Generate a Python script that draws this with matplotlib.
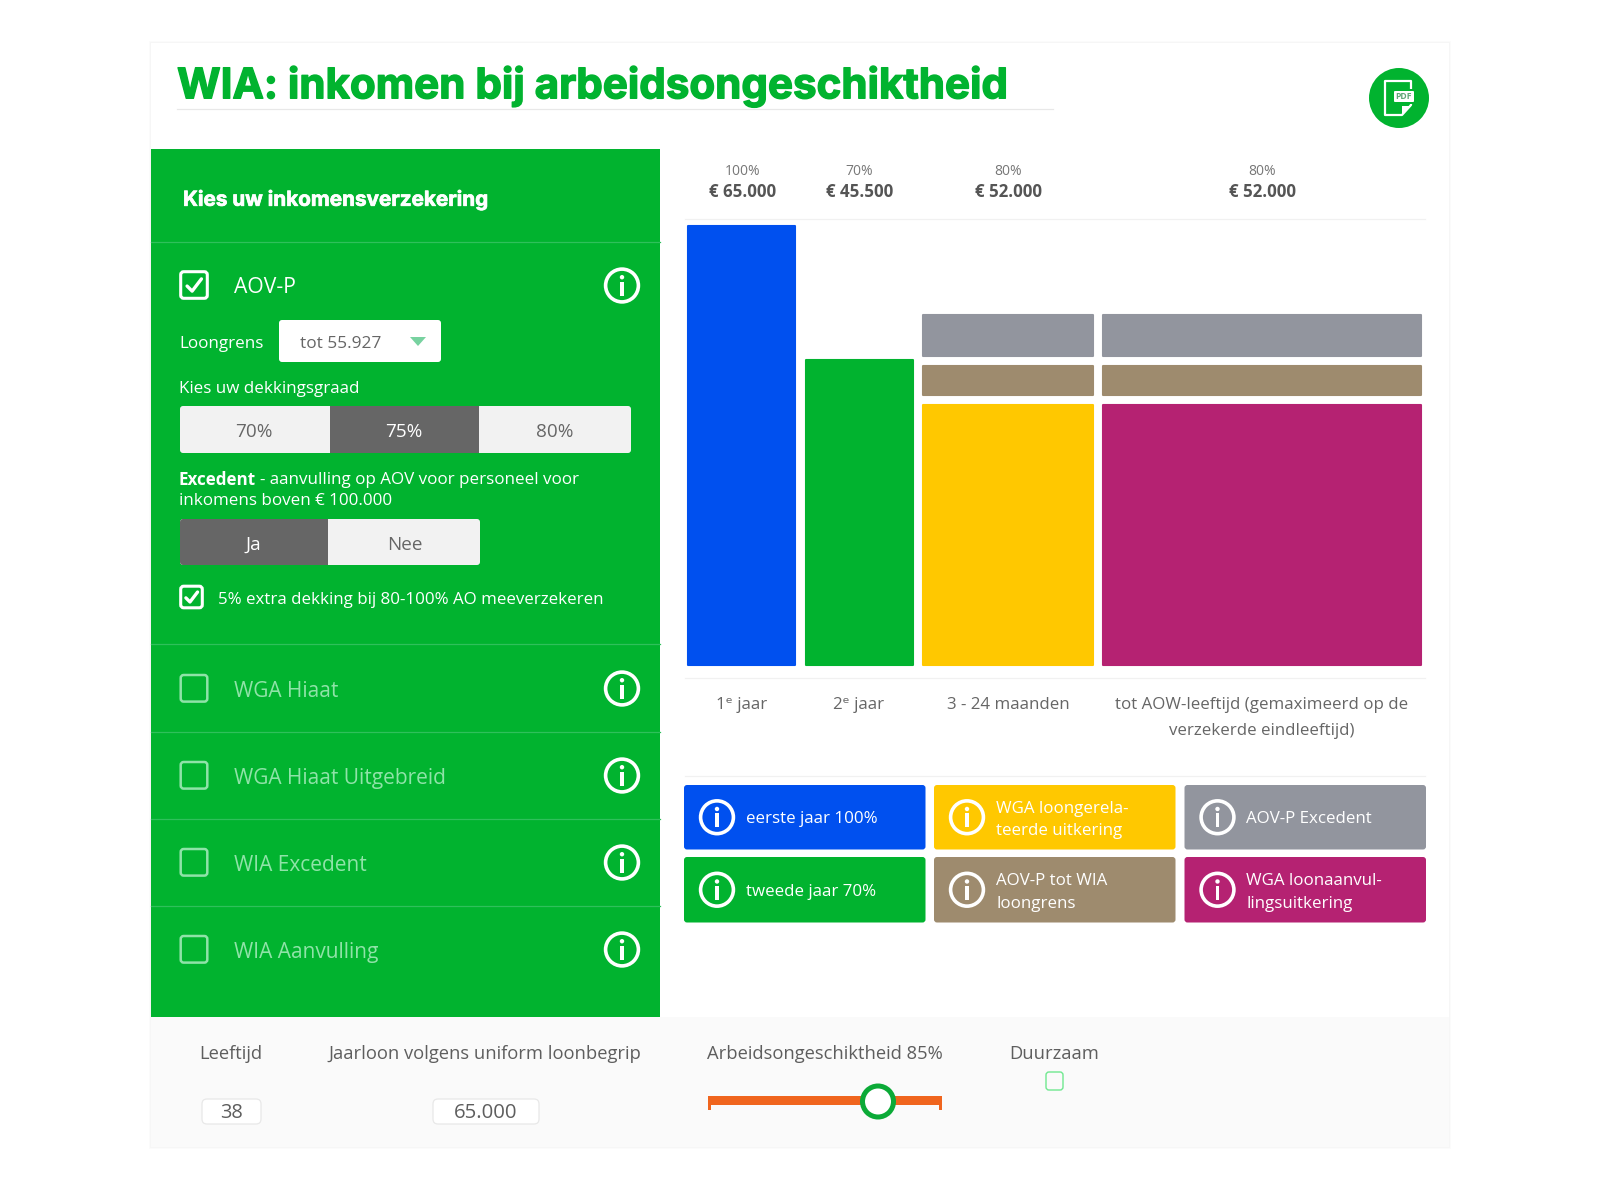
import matplotlib
matplotlib.use("Agg")
import matplotlib.pyplot as plt
import matplotlib.patheffects as pe
from matplotlib.patches import FancyBboxPatch, Circle, Rectangle, Polygon
from matplotlib.lines import Line2D

plt.rcParams['font.family'] = ['Open Sans', 'DejaVu Sans']

# ---------- data ----------
periods = ["1ᵉ jaar", "2ᵉ jaar", "3 - 24 maanden", "tot AOW-leeftijd (gemaximeerd op de\nverzekerde eindleeftijd)"]
percentages = ["100%", "70%", "80%", "80%"]
totals = ["€ 65.000", "€ 45.500", "€ 52.000", "€ 52.000"]
first_year = [65000, 0, 0, 0]
second_year = [0, 45100, 0, 0]
wga_loongerelateerd = [0, 0, 40000, 0]
wga_loonaanvulling = [0, 0, 0, 40000]
aov_tot_loongrens = [0, 0, 5720, 5720]
aov_excedent = [0, 0, 6000, 6000]

legend_labels = ["eerste jaar 100%", "tweede jaar 70%", "WGA loongerela-\nteerde uitkering",
                 "AOV-P tot WIA\nloongrens", "AOV-P Excedent", "WGA loonaanvul-\nlingsuitkering"]
coverage_options = ["70%", "75%", "80%"]
excedent_options = ["Ja", "Nee"]
other_products = ["WGA Hiaat", "WGA Hiaat Uitgebreid", "WIA Excedent", "WIA Aanvulling"]

# ---------- styles ----------
BLUE, GREEN, YELLOW = "#0050EF", "#01B32F", "#FFC800"
TAN, GRAY, MAGENTA = "#9E8B6E", "#92959E", "#B52272"
DARK, LIGHT, TXT = "#666666", "#F2F2F2", "#666666"
BODY = 12.25
DY = 1.8

fig = plt.figure(figsize=(16, 12), dpi=100, facecolor="white")
ui = fig.add_axes([0, 0, 1, 1])
ui.set_xlim(0, 1600); ui.set_ylim(1200, 0); ui.axis("off")


def box(x0, y0, x1, y1, fc, ec="none", lw=0, r=3, z=2):
    ui.add_patch(FancyBboxPatch((x0, y0), x1 - x0, y1 - y0, boxstyle=f"round,pad=0,rounding_size={r}",
                                fc=fc, ec=ec, lw=lw, zorder=z))


def rect(x0, y0, x1, y1, fc, z=2):
    ui.add_patch(Rectangle((x0, y0), x1 - x0, y1 - y0, fc=fc, ec="none", zorder=z))


def t(x, y, s, size=BODY, color="white", ha="left", weight="normal", family=None, z=6, thick=0, **kw):
    txt = ui.text(x, y + DY, s, fontsize=size, color=color, ha=ha, va="center", fontweight=weight,
                  zorder=z, family=family if family else ['Open Sans', 'DejaVu Sans'], **kw)
    if thick:
        txt.set_path_effects([pe.withStroke(linewidth=thick, foreground=color)])
    return txt


def info(cx, cy, r, fg="white", z=5):
    ui.add_patch(Circle((cx, cy), r - 1.6, fc="none", ec=fg, lw=2.6, zorder=z))
    ui.add_patch(Rectangle((cx - 1.7, cy - r * 0.22), 3.4, r * 0.78, fc=fg, ec="none", zorder=z))
    ui.add_patch(Circle((cx, cy - r * 0.46), 2.2, fc=fg, ec="none", zorder=z))


def checkbox(x0, y0, x1, y1, ec="white", checked=False, lw=2.2, r=3):
    box(x0, y0, x1, y1, "none", ec=ec, lw=lw, r=r, z=5)
    if checked:
        w, h = x1 - x0, y1 - y0
        ui.add_line(Line2D([x0 + .24 * w, x0 + .43 * w, x0 + .78 * w], [y0 + .54 * h, y0 + .73 * h, y0 + .27 * h],
                           color=ec, lw=2.4, zorder=5, solid_capstyle="round", solid_joinstyle="round"))


# card
for grow, col in ((2, "#FBFBFB"), (1, "#F6F6F6")):
    rect(151 - grow, 43 - grow, 1449 + grow, 1147 + grow, col, z=0)
rect(151, 43, 1449, 1147, "white", z=1)
rect(151, 1017, 1449, 1147, "#FAFAFA", z=1)
rect(151, 149, 660, 1017, GREEN, z=1)

# header
t(177, 84.5, "WIA: inkomen bij arbeidsongeschiktheid", size=30.3, color=GREEN, weight="bold", family="Inter", thick=1.0)
ui.add_line(Line2D([177, 1053], [109, 109], color="#E8E8E8", lw=0.9, zorder=2))
ui.add_patch(Circle((1399, 98), 30, fc=GREEN, ec="none", zorder=3))
ui.add_patch(Polygon([(1385, 81), (1411, 81), (1411, 105), (1402, 115), (1385, 115)], closed=True,
                     fc="none", ec="white", lw=1.6, zorder=4, joinstyle="round"))
rect(1392, 89, 1417, 104, GREEN, z=4)
box(1394, 91, 1414, 102, "white", r=1, z=4)
t(1404, 95, "PDF", size=6.2, color="#5FA777", ha="center", weight="bold", z=5)
ui.add_patch(Polygon([(1402, 115), (1402, 106), (1411, 106)], closed=True, fc="white", ec="none", zorder=4))

# left panel
t(183, 197.5, "Kies uw inkomensverzekering", size=14.9, weight="bold", family="Inter", thick=0.5)
for y in (242, 644, 732, 819, 906):
    ui.add_line(Line2D([151, 660], [y, y], color="#2FC05B", lw=0.9, zorder=3))

checkbox(180.7, 271.7, 207.3, 298.3, checked=True)
t(234, 285.5, "AOV-P", size=15.2)
info(622, 285.5, 18)

t(179, 342, "Loongrens")
box(279, 320, 441, 362, "white")
t(300, 342, "tot 55.927", color=TXT, size=12.4)
ui.add_patch(Polygon([(410, 337), (426, 337), (418, 346)], closed=True, fc="#78D2A0", ec="none", zorder=4))

t(179, 387, "Kies uw dekkingsgraad")
box(180, 406, 631, 453, LIGHT)
rect(330, 406, 479, 453, DARK, z=3)
for cx, lab, col in zip((254, 404, 555), coverage_options, (TXT, "white", TXT)):
    t(cx, 430.5, lab, ha="center", color=col, size=13.6)

t(179, 478, "Excedent", weight="bold")
t(260.5, 478, "- aanvulling op AOV voor personeel voor")
t(179, 499, "inkomens boven € 100.000")

box(180, 519, 480, 565, LIGHT)
box(180, 519, 330, 565, DARK, z=3)
rect(320, 519, 328, 565, DARK, z=3)
rect(328, 519, 332, 565, LIGHT, z=3)
for cx, lab, col in zip((253, 405), excedent_options, ("white", TXT)):
    t(cx, 543, lab, ha="center", color=col, size=13.6)

checkbox(180.7, 586.2, 202.3, 607.8, checked=True)
t(218, 598, "5% extra dekking bij 80-100% AO meeverzekeren", size=12.2)

FADED = "#8FE3A8"
for y, name in zip((689, 776, 863, 950), other_products):
    checkbox(180.7, y - 14, 207.3, y + 12.6, ec=FADED, lw=1.8)
    t(234, y + 1, name, size=15, color=FADED)
    info(622, y - 0.5, 18)

# chart (axes: x in pixels across the column, y in euros)
ax = fig.add_axes([680 / 1600, 1 - 665 / 1200, 750 / 1600, (665 - 225.5) / 1200])
ax.patch.set_alpha(0)
ax.set_xlim(680, 1430)
ax.set_ylim(0, 65000)
col_left = [687.5, 805.5, 922.5, 1102.5]
col_width = [107, 107, 170, 318.5]
centers = [742, 859, 1008, 1262]
EDGE = 1.5
GAP = 1480


def stack(values, bottoms, color, gap=True):
    for left, width, v, b in zip(col_left, col_width, values, bottoms):
        if v:
            ax.bar(left, v - (GAP if gap else 0), width=width, bottom=b, align="edge", color=color,
                   edgecolor=color, linewidth=EDGE, joinstyle="round", clip_on=False)


zero = [0, 0, 0, 0]
stack(first_year, zero, BLUE, gap=False)
stack(second_year, zero, GREEN, gap=False)
stack(wga_loongerelateerd, zero, YELLOW)
stack(wga_loonaanvulling, zero, MAGENTA)
b1 = [a + b for a, b in zip(wga_loongerelateerd, wga_loonaanvulling)]
stack(aov_tot_loongrens, b1, TAN)
b2 = [a + b for a, b in zip(b1, aov_tot_loongrens)]
stack(aov_excedent, b2, GRAY, gap=False)

for s in ax.spines.values():
    s.set_visible(False)
ax.set_yticks([])
ax.set_xticks(centers, periods, fontsize=12.2, color=TXT, linespacing=1.8)
ax.tick_params(axis="x", length=0, pad=23)

for cx, p, v in zip(centers, percentages, totals):
    t(cx + 0.5, 169.5, p, size=10, ha="center", color="#777777")
    t(cx + 0.5, 190.5, v, size=12.2, ha="center", color="#555555", weight="bold")

for y in (219, 678, 776):
    ui.add_line(Line2D([685, 1425], [y, y], color="#F1F1F1", lw=0.9, zorder=2))

# legend
lx = [(684, 925.5), (934, 1175.5), (1184.5, 1426)]
ly = [(785, 849.5), (857, 922.5)]
lcol = [BLUE, GREEN, YELLOW, TAN, GRAY, MAGENTA]
for i, (lab, c) in enumerate(zip(legend_labels, lcol)):
    x0, x1 = lx[i // 2]
    y0, y1 = ly[i % 2]
    box(x0, y0, x1, y1, c)
    cy = (y0 + y1) / 2
    info(x0 + 33, cy, 18)
    t(x0 + 62, cy + (1 if "\n" in lab else 0), lab, size=12.2, linespacing=1.55)

# bottom strip
for cx, lab in zip((231, 485, 825, 1054), ("Leeftijd", "Jaarloon volgens uniform loonbegrip", "Arbeidsongeschiktheid 85%", "Duurzaam")):
    t(cx, 1052, lab, size=13.25, color="#5E5E5E", ha="center")
box(202, 1099, 261, 1124, "white", ec="#E8E8E8", lw=0.9, r=5)
t(231.5, 1111, "38", size=14.4, color="#5E5E5E", ha="center")
box(433, 1099, 539, 1124, "white", ec="#E8E8E8", lw=0.9, r=5)
t(485.5, 1111, "65.000", size=14.7, color="#5E5E5E", ha="center")

ORANGE = "#F0651E"
rect(708, 1096, 942, 1105, ORANGE, z=3)
rect(708, 1096, 711, 1110, ORANGE, z=3)
rect(939, 1096, 942, 1110, ORANGE, z=3)
ui.add_patch(Circle((878, 1101.5), 15.5, fc="white", ec="#0BAA37", lw=3.6, zorder=4))
box(1046, 1072, 1063, 1090, "none", ec="#6FE88F", lw=1, r=3, z=4)

fig.savefig("out.png", dpi=100)
